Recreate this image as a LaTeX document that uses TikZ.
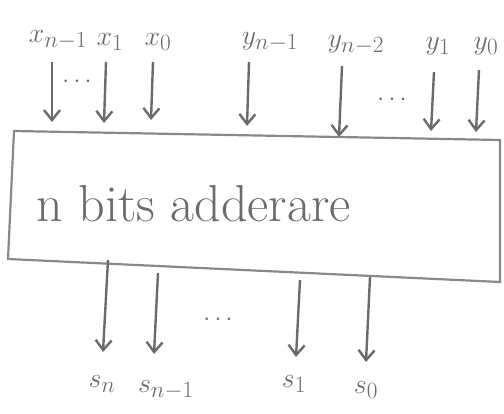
\documentclass[tikz,border=0pt]{standalone}
\usetikzlibrary{arrows.meta}
\definecolor{pencil}{gray}{0.42}
\newcommand\mylbl[1]{\scalebox{1.12}{$#1$}}
\begin{document}
\begin{tikzpicture}[x=1pt,y=-1pt,
  sig/.style={draw=pencil,line width=2.4pt,-{Straight Barb[length=10pt,width=16pt]}},
  lbl/.style={text=pencil,font=\fontsize{24.88}{28}\selectfont},
  dots/.style={text=pencil,font=\fontsize{24.88}{28}\selectfont},
  boxline/.style={draw=pencil!80,line width=2.2pt}]
\useasboundingbox (0,0) rectangle (504,414);
% box
\coordinate (tl) at (14,131);
\coordinate (tr) at (500,140);
\coordinate (br) at (500,282);
\coordinate (bl) at (8,259);
\draw[boxline] (tl) -- (tr) -- (br) -- (bl) -- cycle;
\node[lbl,anchor=west,font=\fontsize{52}{56}\selectfont,inner sep=0pt] (title) at (36,204) {n bits adderare};
% input labels
\node[lbl] (xn1) at (58,40) {\mylbl{x_{n-1}}};
\node[lbl] (x1) at (110,42) {\mylbl{x_1}};
\node[lbl] (x0) at (158,42) {\mylbl{x_0}};
\node[lbl] (yn1) at (270,42) {\mylbl{y_{n-1}}};
\node[lbl] (yn2) at (356,45) {\mylbl{y_{n-2}}};
\node[lbl] (y1) at (438,46) {\mylbl{y_1}};
\node[lbl] (y0) at (486,46) {\mylbl{y_0}};
% input arrows
\coordinate (axn1s) at (52,62);  \coordinate (axn1e) at (52,122);
\coordinate (ax1s) at (106,62);  \coordinate (ax1e) at (104,123);
\coordinate (ax0s) at (153,62);  \coordinate (ax0e) at (151,120);
\coordinate (ayn1s) at (249,62); \coordinate (ayn1e) at (247,126);
\coordinate (ayn2s) at (342,66); \coordinate (ayn2e) at (339,137);
\coordinate (ay1s) at (434,72);  \coordinate (ay1e) at (431,131);
\coordinate (ay0s) at (479,70);  \coordinate (ay0e) at (476,132);
\draw[sig] (axn1s) -- (axn1e);
\draw[sig] (ax1s) -- (ax1e);
\draw[sig] (ax0s) -- (ax0e);
\draw[sig] (ayn1s) -- (ayn1e);
\draw[sig] (ayn2s) -- (ayn2e);
\draw[sig] (ay1s) -- (ay1e);
\draw[sig] (ay0s) -- (ay0e);
\node[dots] (d1) at (77,82) {$\cdots$};
\node[dots] (d2) at (392,100) {$\cdots$};
% output arrows
\coordinate (asns) at (108,260);  \coordinate (asne) at (103,352);
\coordinate (asn1s) at (158,273); \coordinate (asn1e) at (154,354);
\coordinate (as1s) at (300,280);  \coordinate (as1e) at (296,357);
\coordinate (as0s) at (370,277);  \coordinate (as0e) at (366,362);
\draw[sig] (asns) -- (asne);
\draw[sig] (asn1s) -- (asn1e);
\draw[sig] (as1s) -- (as1e);
\draw[sig] (as0s) -- (as0e);
\node[dots] (d3) at (218,320) {$\cdots$};
% output labels
\node[lbl] (sn) at (102,384) {\mylbl{s_n}};
\node[lbl] (sn1) at (166,390) {\mylbl{s_{n-1}}};
\node[lbl] (s1) at (294,384) {\mylbl{s_1}};
\node[lbl] (s0) at (366,390) {\mylbl{s_0}};
\end{tikzpicture}
\end{document}
